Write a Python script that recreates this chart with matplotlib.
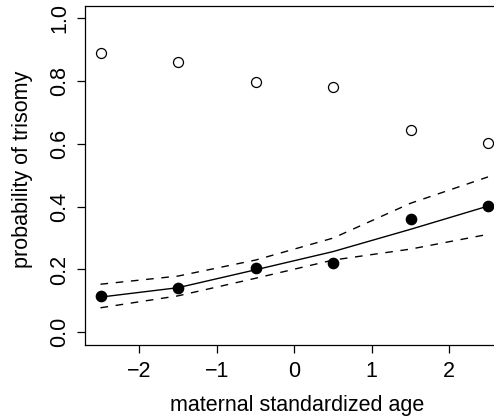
import numpy as np
import matplotlib
matplotlib.use('Agg')
import matplotlib.pyplot as plt

plt.rcParams['font.family'] = ['Liberation Sans', 'DejaVu Sans']

# standardized maternal age groups
age = [-2.5, -1.5, -0.5, 0.5, 1.5, 2.5]
# observed proportions (open = other, filled = trisomy)
p_open = [0.889, 0.861, 0.799, 0.781, 0.644, 0.602]
p_filled = [0.114, 0.142, 0.204, 0.222, 0.360, 0.401]
# fitted curve with confidence band
fit = [0.112, 0.142, 0.199, 0.257, 0.328, 0.402]
upper = [0.153, 0.179, 0.230, 0.300, 0.411, 0.495]
lower = [0.078, 0.116, 0.172, 0.230, 0.265, 0.312]

fig = plt.figure(figsize=(4.94, 4.2), dpi=100)
ax = fig.add_axes([85 / 494, 1 - 344.8 / 420, 418.5 / 494, 338.9 / 420])

ax.plot(age, fit, color='black', lw=1.0)
ax.plot(age, upper, color='black', lw=1.0, dashes=(5.5, 5.5))
ax.plot(age, lower, color='black', lw=1.0, dashes=(5.5, 5.5))
ax.plot(age, p_open, 'o', ms=7.2, mfc='white', mec='black', mew=0.9)
ax.plot(age, p_filled, 'o', ms=7.4, mfc='black', mec='black')

ax.set_xlim(-2.7, 2.7)
ax.set_ylim(-0.04, 1.04)
ax.set_xticks([-2, -1, 0, 1, 2])
ax.set_xticklabels(['\u22122', '\u22121', '0', '1', '2'])
ax.set_yticks([0.0, 0.2, 0.4, 0.6, 0.8, 1.0])
ax.set_yticklabels(['0.0', '0.2', '0.4', '0.6', '0.8', '1.0'])
ax.tick_params(direction='out', length=5.8, width=0.9, labelsize=15.5)
ax.tick_params(axis='x', pad=6)
ax.tick_params(axis='y', pad=5)
plt.setp(ax.get_yticklabels(), rotation=90, va='center')
for s in ax.spines.values():
    s.set_linewidth(0.9)

ax.set_xlabel('maternal standardized age', fontsize=15.5)
ax.set_ylabel('probability of trisomy', fontsize=15.5)
ax.xaxis.set_label_coords(0.508, -0.18)
ax.yaxis.set_label_coords(-0.150, 0.517)
ax.xaxis.label.set_va('center')
ax.yaxis.label.set_va('center')

fig.savefig('out.png', dpi=100)
